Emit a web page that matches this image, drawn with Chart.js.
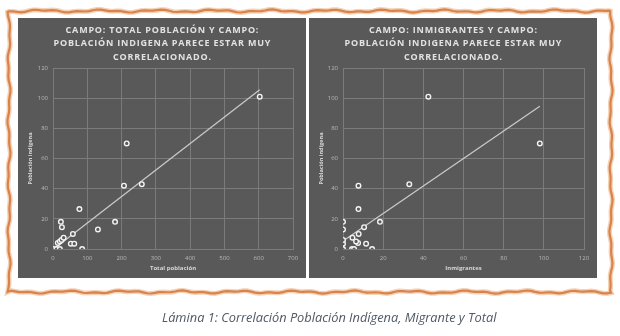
<!DOCTYPE html>
<html lang="es">
<head>
<meta charset="utf-8">
<title>Lámina 1</title>
<script src="https://cdn.jsdelivr.net/npm/chart.js@4.4.1/dist/chart.umd.min.js"></script>
<style>
  html, body { margin: 0; padding: 0; background: #ffffff; }
  #page { position: relative; width: 620px; height: 336px; overflow: hidden; }
  #frame { position: absolute; left: 0; top: 0; }
  .panel { position: absolute; top: 18px; width: 288px; height: 260px; background: #595959; }
  #panelTotal { left: 18px; }
  #panelInm { left: 309px; }
  #caption {
    position: absolute; left: 162px; top: 308px;
    font-family: "Open Sans", sans-serif; font-style: italic; font-size: 12.8px;
    color: #4f5864; white-space: nowrap;
  }
</style>
</head>
<body>
<div id="page">
  <canvas id="frame" width="620" height="336"></canvas>
  <div class="panel" id="panelTotal"><canvas id="chartTotal"></canvas></div>
  <div class="panel" id="panelInm"><canvas id="chartInm"></canvas></div>
  <div id="caption">Lámina 1: Correlación Población Indígena, Migrante y Total</div>
</div>
<script>
// Población indígena por localidad (eje Y en ambos gráficos)
const indigena = [0, 0, 0, 0, 3.5, 3.5, 4, 5, 6, 7.5, 10, 13, 14.5, 18, 18, 26.5, 42, 43, 70, 101];
// Total población por localidad
const totalPoblacion = [1, 10, 20, 85, 52, 62, 14, 20, 25, 31, 58, 131, 26, 23, 181, 77, 207, 259, 215, 603];
// Inmigrantes por localidad
const inmigrantes = [0, 4.5, 5.5, 14.5, 0, 11.5, 7.5, 6.5, 0, 4.7, 7.8, 0, 10.5, 0, 18.4, 7.7, 7.7, 33, 98, 42.5];

// extremos de las líneas de tendencia
const tendenciaTotalX = [2, 603];
const tendenciaTotalY = [0, 105.6];
const tendenciaInmX = [0, 98];
const tendenciaInmY = [5.3, 94.6];

const tituloTotal = ["CAMPO: TOTAL POBLACIÓN Y CAMPO:", "POBLACIÓN INDIGENA PARECE ESTAR MUY", "CORRELACIONADO."];
const tituloInm = ["CAMPO: INMIGRANTES Y CAMPO:", "POBLACIÓN INDIGENA PARECE ESTAR MUY", "CORRELACIONADO."];

const GRID = "#7b7b7b";
const TICK = "#b8b8b8";
const FONT = "'Open Sans', sans-serif";

// marco naranja ondulado alrededor de los gráficos
(function drawFrame() {
  const c = document.getElementById("frame").getContext("2d");
  const wob = (i) => 1.0 * Math.sin(i * 0.11) + 0.6 * Math.sin(i * 0.29 + 1.3);
  const x0 = 9, x1 = 611, y0 = 11, y1 = 292;
  const pts = [];
  for (let x = x0; x <= x1; x += 4) pts.push([x, y0 + wob(x)]);
  for (let y = y0; y <= y1; y += 4) pts.push([x1 + wob(y + 40), y]);
  for (let x = x1; x >= x0; x -= 4) pts.push([x, y1 + wob(x + 90)]);
  for (let y = y1; y >= y0; y -= 4) pts.push([x0 + wob(y + 150), y]);
  function stroke(color, w) {
    c.beginPath();
    pts.forEach((p, i) => (i ? c.lineTo(p[0], p[1]) : c.moveTo(p[0], p[1])));
    c.closePath();
    c.strokeStyle = color;
    c.lineWidth = w;
    c.stroke();
  }
  stroke("#f3d2b8", 5);
  stroke("#d9834a", 2.2);
})();

// título espaciado (el título de Chart.js no admite letterSpacing)
const spacedTitle = {
  id: "spacedTitle",
  afterDraw(chart, args, opts) {
    const ctx = chart.ctx;
    ctx.save();
    ctx.font = "bold 9px " + FONT;
    ctx.letterSpacing = "0.8px";
    ctx.fillStyle = "#e2e2e2";
    ctx.textAlign = "center";
    ctx.textBaseline = "middle";
    opts.lines.forEach((line, i) => {
      ctx.fillText(line, chart.width / 2 + 0.4, 12 + i * 13.6);
    });
    ctx.restore();
  },
};

function makeChart(id, xs, trendX, trendY, xMax, xStep, xTitle, title, yAxisWidth) {
  const puntos = xs.map((x, i) => ({ x: x, y: indigena[i] }));
  const tendencia = trendX.map((x, i) => ({ x: x, y: trendY[i] }));
  return new Chart(document.getElementById(id), {
    type: "scatter",
    data: {
      datasets: [
        {
          data: puntos,
          pointRadius: 2.3,
          borderWidth: 1.4,
          borderColor: "#f4f4f4",
          backgroundColor: "#595959",
          order: 1,
        },
        {
          type: "line",
          data: tendencia,
          borderColor: "#c9c9c9",
          borderWidth: 1.3,
          pointRadius: 0,
          fill: false,
          order: 2,
        },
      ],
    },
    plugins: [spacedTitle],
    options: {
      responsive: true,
      maintainAspectRatio: false,
      animation: false,
      layout: { padding: { left: 0, right: 13, top: 50, bottom: 0 } },
      plugins: {
        legend: { display: false },
        tooltip: { enabled: false },
        title: { display: false },
        spacedTitle: { lines: title },
      },
      scales: {
        x: {
          type: "linear",
          min: 0,
          max: xMax,
          ticks: { stepSize: xStep, color: TICK, padding: 6, font: { family: FONT, size: 6 } },
          grid: { color: GRID, lineWidth: 1, drawTicks: false },
          border: { color: GRID },
          title: {
            display: true,
            text: xTitle,
            color: "#d6d6d6",
            padding: { top: 0, bottom: 6 },
            font: { family: FONT, size: 6, weight: "bold" },
          },
          afterFit: (s) => { s.height = 29; },
        },
        y: {
          min: 0,
          max: 120,
          ticks: { stepSize: 20, color: TICK, padding: 5, font: { family: FONT, size: 6 } },
          grid: { color: GRID, lineWidth: 1, drawTicks: false },
          border: { color: GRID },
          title: {
            display: true,
            text: "Población indígena",
            color: "#d6d6d6",
            padding: { top: 9, bottom: 0 },
            font: { family: FONT, size: 5.5, weight: "bold" },
          },
          afterFit: (s) => { s.width = yAxisWidth; },
        },
      },
    },
  });
}

makeChart("chartTotal", totalPoblacion, tendenciaTotalX, tendenciaTotalY, 700, 100, "Total población", tituloTotal, 35);
makeChart("chartInm", inmigrantes, tendenciaInmX, tendenciaInmY, 120, 20, "Inmigrantes", tituloInm, 34);
</script>
</body>
</html>
